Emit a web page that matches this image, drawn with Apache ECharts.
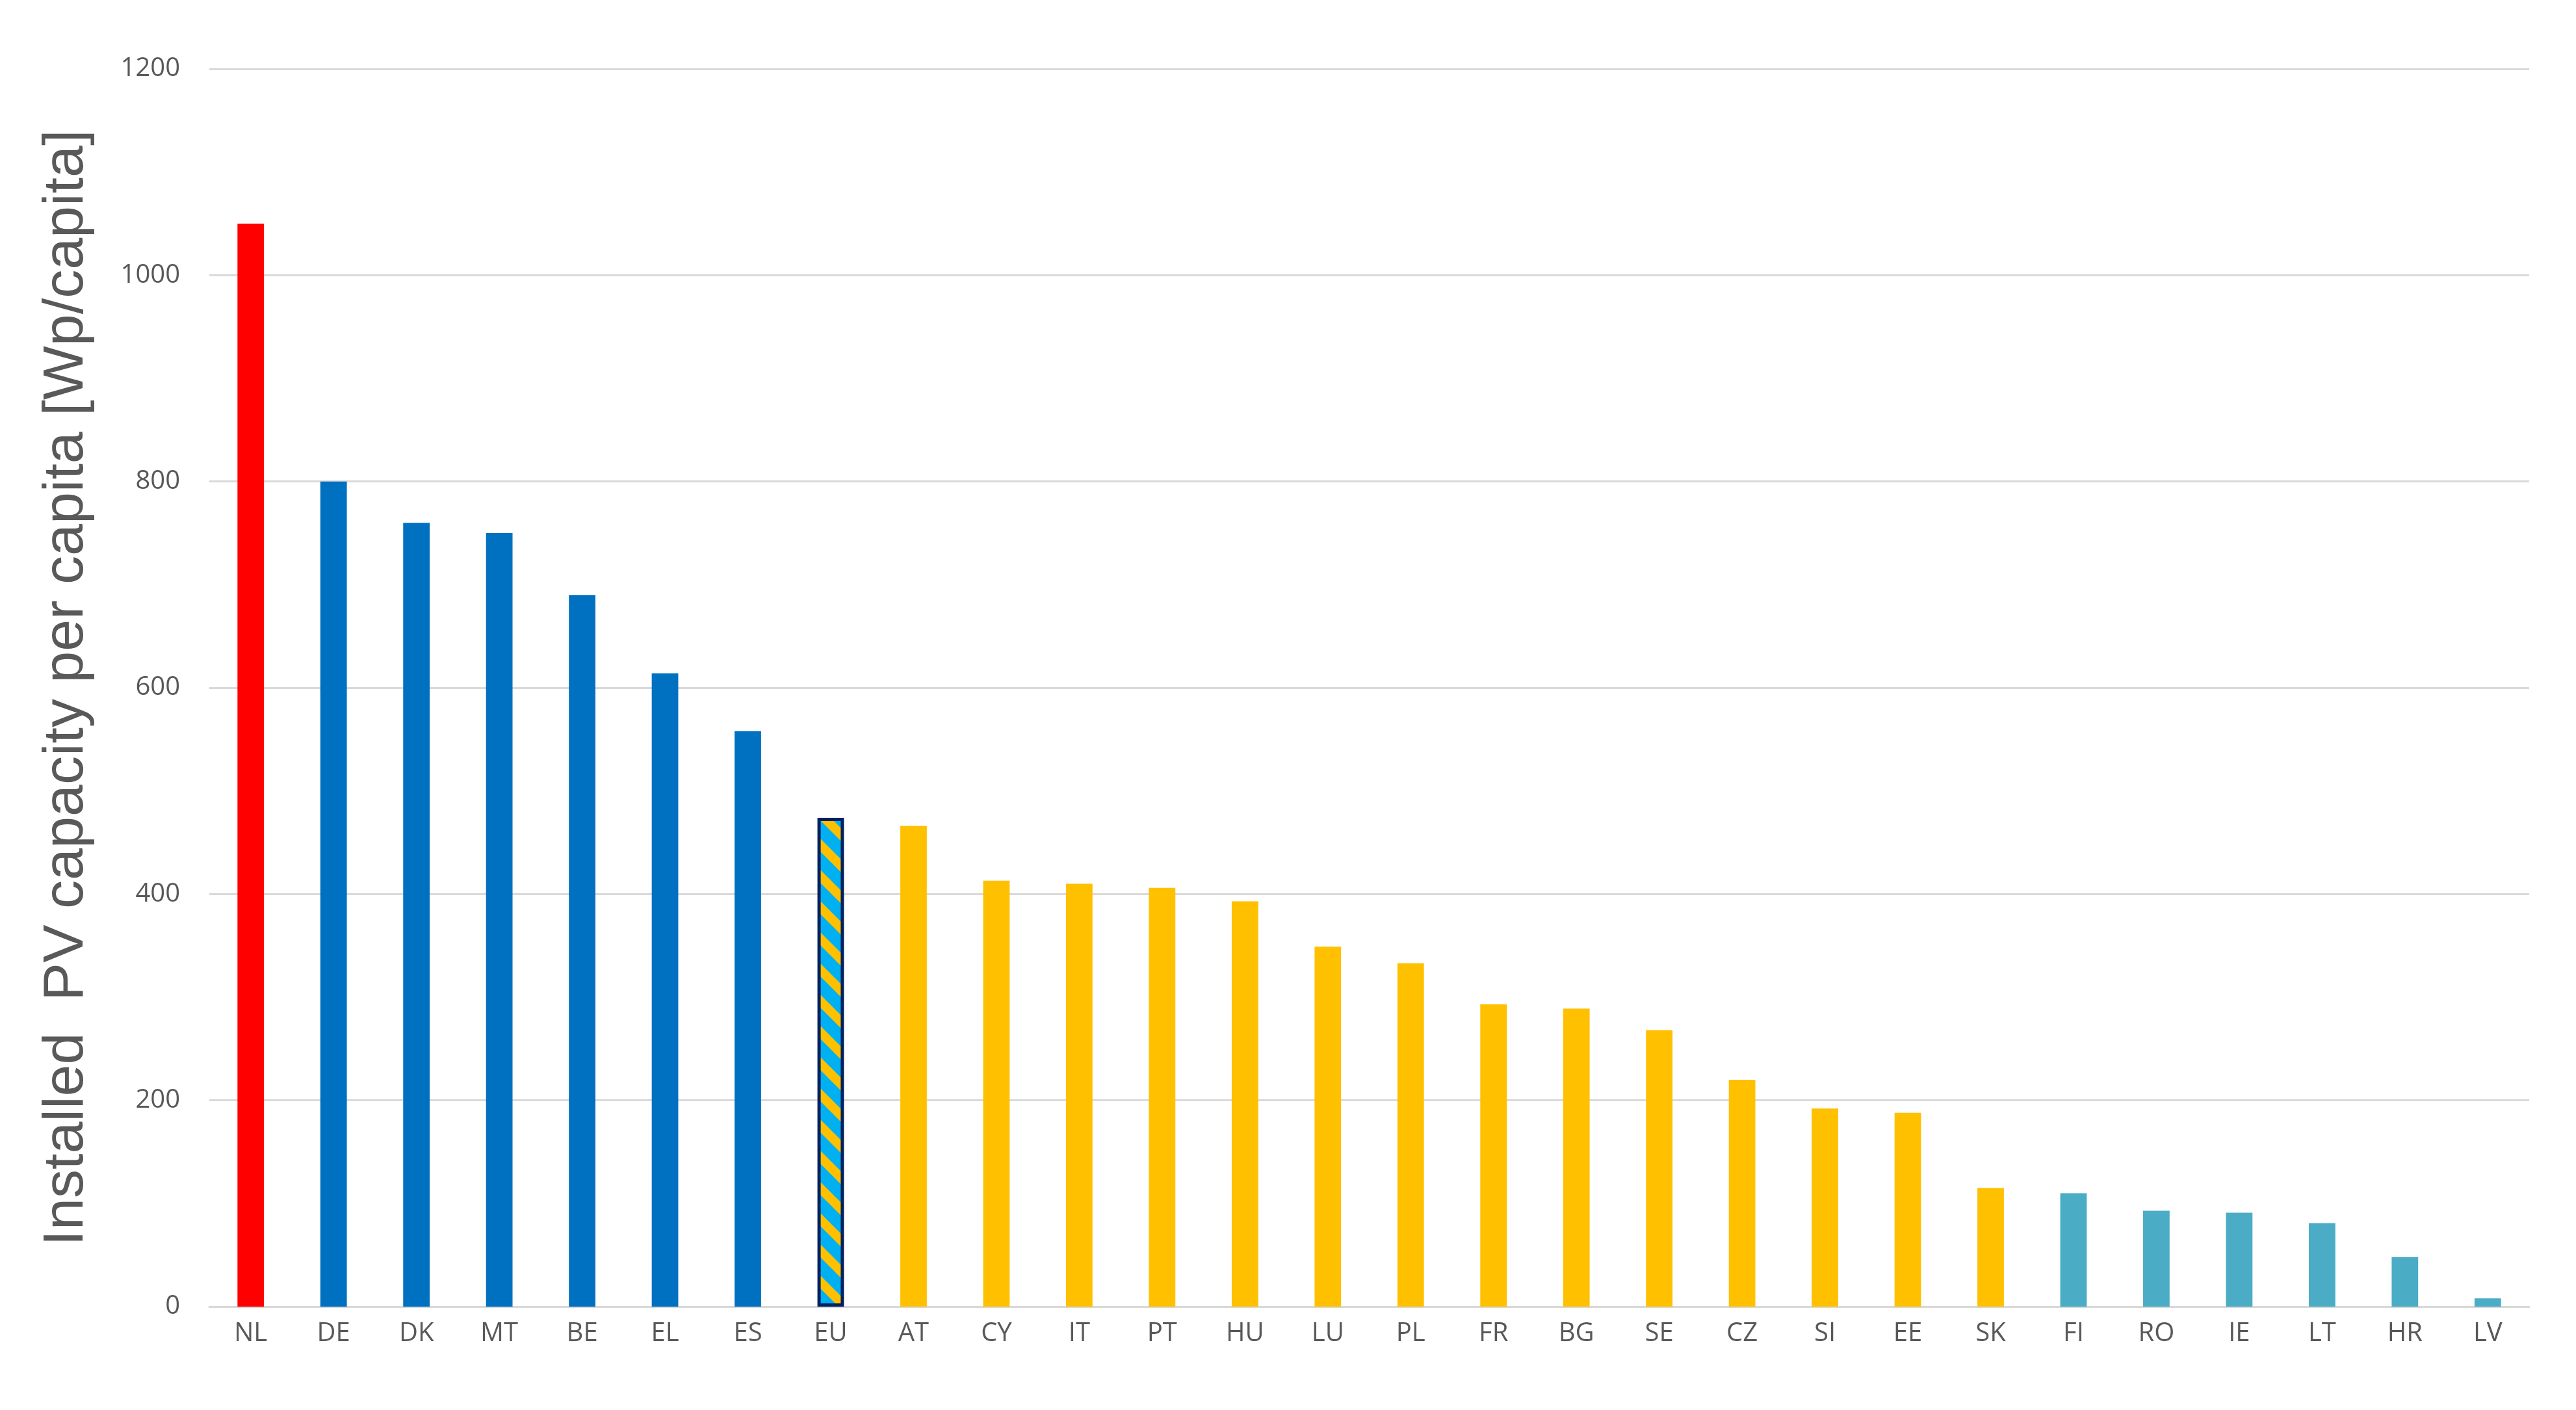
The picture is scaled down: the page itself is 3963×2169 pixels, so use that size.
<!DOCTYPE html>
<html>
<head>
<meta charset="utf-8">
<script src="https://cdn.jsdelivr.net/npm/echarts@6/dist/echarts.min.js"></script>
<style>html,body{margin:0;padding:0;background:#fff}#chart{width:3963px;height:2169px}</style>
</head>
<body>
<div id="chart"></div>
<script>
var countries = ['NL','DE','DK','MT','BE','EL','ES','EU','AT','CY','IT','PT','HU','LU','PL','FR','BG','SE','CZ','SI','EE','SK','FI','RO','IE','LT','HR','LV'];
var capacity = [1050,800,760,750,690,614,558,474,466,413,410,406,393,349,333,293,289,268,220,192,188,115,110,93,91,81,48,8];
var groups = ['red','blue','blue','blue','blue','blue','blue','eu','yellow','yellow','yellow','yellow','yellow','yellow','yellow','yellow','yellow','yellow','yellow','yellow','yellow','yellow','teal','teal','teal','teal','teal','teal'];
var yTicks = [0,200,400,600,800,1000,1200];

// striped fill for the EU bar
var cv = document.createElement('canvas');
cv.width = 48; cv.height = 48;
var cx = cv.getContext('2d');
cx.fillStyle = '#00B0F0'; cx.fillRect(0,0,48,48);
cx.fillStyle = '#FFC000';
for (var k = -2; k <= 2; k++) {
    cx.beginPath();
    cx.moveTo(k*48, 0); cx.lineTo(k*48+20, 0);
    cx.lineTo(k*48+20+48, 48); cx.lineTo(k*48+48, 48);
    cx.closePath(); cx.fill();
}

var colors = { red:'#FF0000', blue:'#0070C0', yellow:'#FFC000', teal:'#4BACC6' };
var data = capacity.map(function(v,i){
    var g = groups[i];
    if (g === 'eu') return { value:v, itemStyle:{ color:{image:cv, repeat:'repeat'}, borderColor:'#002060', borderWidth:5 } };
    return { value:v, itemStyle:{ color:colors[g] } };
});

var chart = echarts.init(document.getElementById('chart'));
chart.setOption({
    animation:false,
    grid:{ left:322, right:72, top:106, bottom:159 },
    xAxis:{
        type:'category', data:countries,
        axisLine:{ lineStyle:{ color:'#d9d9d9', width:3 } },
        axisTick:{ show:false },
        axisLabel:{ color:'#595959', fontSize:40, fontFamily:'Open Sans', margin:22 }
    },
    yAxis:{
        type:'value', min:yTicks[0], max:yTicks[yTicks.length-1], interval:200,
        name:'Installed  PV capacity per capita [Wp/capita]',
        nameLocation:'middle', nameGap:175,
        nameTextStyle:{ color:'#595959', fontSize:88, fontFamily:'Liberation Sans' },
        axisLine:{ show:false }, axisTick:{ show:false },
        axisLabel:{ color:'#595959', fontSize:40, fontFamily:'Open Sans', margin:45, formatter:function(v){ return String(v); } },
        splitLine:{ lineStyle:{ color:'#d9d9d9', width:3 } }
    },
    series:[{ type:'bar', data:data, barWidth:'32%' }]
});
</script>
</body>
</html>
